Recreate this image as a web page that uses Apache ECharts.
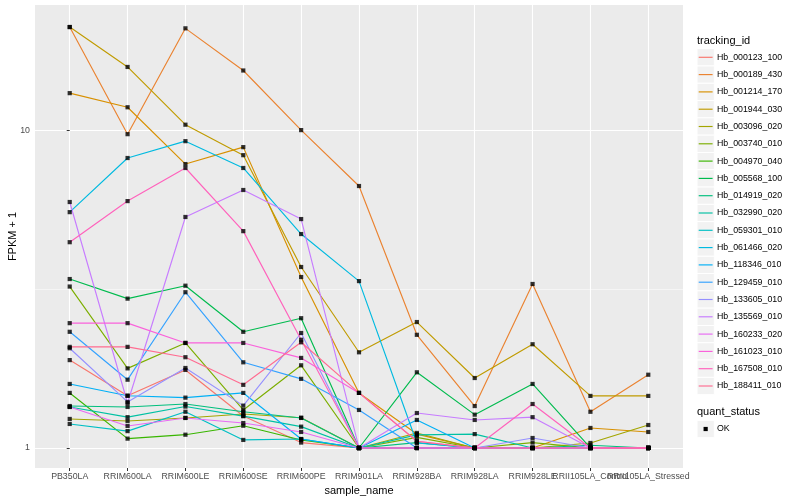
<!DOCTYPE html>
<html><head><meta charset="utf-8">
<script src="https://cdn.jsdelivr.net/npm/echarts@6/dist/echarts.min.js"></script>
<style>html,body{margin:0;padding:0;background:#fff}#c{width:800px;height:500px}</style>
</head><body><div id="c"></div>
<script>
const categories = ['PB350LA','RRIM600LA','RRIM600LE','RRIM600SE','RRIM600PE','RRIM901LA','RRIM928BA','RRIM928LA','RRIM928LE','RRII105LA_Control','RRII105LA_Stressed'];
const trackingIds = ['Hb_000123_100','Hb_000189_430','Hb_001214_170','Hb_001944_030','Hb_003096_020','Hb_003740_010','Hb_004970_040','Hb_005568_100','Hb_014919_020','Hb_032990_020','Hb_059301_010','Hb_061466_020','Hb_118346_010','Hb_129459_010','Hb_133605_010','Hb_135569_010','Hb_160233_020','Hb_161023_010','Hb_167508_010','Hb_188411_010'];
const colors = ['#F8766D','#EA8331','#D89000','#C09B00','#A3A500','#7CAE00','#39B600','#00BB4E','#00BF7D','#00C1A3','#00BFC4','#00BAE0','#00B0F6','#35A2FF','#9590FF','#C77CFF','#E76BF3','#FA62DB','#FF62BC','#FF6C91'];
const yTickValues = [1, 10];
const yMinorValues = [3.1623];

const Hb_000123_100 = [1.89, 1.46, 1.76, 1.26, 1.04, 1, 1, 1, 1, 1, 1];
const Hb_000189_430 = [21.1, 9.71, 20.9, 15.4, 10.0, 6.67, 2.27, 1.355, 3.28, 1.30, 1.70];
const Hb_001214_170 = [13.07, 11.8, 7.82, 8.84, 3.45, 1.49, 1.106, 1, 1, 1.156, 1.123];
const Hb_001944_030 = [21.1, 15.8, 10.4, 8.34, 3.71, 2.00, 2.49, 1.66, 2.12, 1.458, 1.458];
const Hb_003096_020 = [1.234, 1.216, 1.243, 1.279, 1.245, 1, 1.115, 1, 1, 1.037, 1.181];
const Hb_003740_010 = [3.22, 1.78, 2.14, 1.317, 1.82, 1, 1.08, 1, 1.04, 1, 1];
const Hb_004970_040 = [1.49, 1.07, 1.101, 1.175, 1.06, 1, 1, 1, 1, 1, 1];
const Hb_005568_100 = [3.40, 2.95, 3.24, 2.32, 2.56, 1, 1.73, 1.273, 1.59, 1, 1];
const Hb_014919_020 = [1.355, 1.346, 1.375, 1.30, 1.243, 1, 1.04, 1, 1, 1.02, 1];
const Hb_032990_020 = [1.346, 1.25, 1.35, 1.26, 1.167, 1, 1.10, 1.106, 1, 1, 1];
const Hb_059301_010 = [1.19, 1.13, 1.30, 1.06, 1.067, 1, 1, 1, 1, 1, 1];
const Hb_061466_020 = [5.52, 8.17, 9.23, 7.60, 4.71, 3.35, 1.037, 1, 1, 1, 1];
const Hb_118346_010 = [1.59, 1.46, 1.44, 1.49, 1.067, 1, 1.225, 1, 1, 1, 1];
const Hb_129459_010 = [2.32, 1.64, 3.09, 1.86, 1.65, 1.317, 1, 1, 1, 1, 1];
const Hb_133605_010 = [2.06, 1.396, 1.785, 1.359, 2.30, 1, 1, 1, 1.075, 1, 1];
const Hb_135569_010 = [5.94, 1.385, 5.33, 6.48, 5.25, 1, 1.288, 1.225, 1.25, 1, 1];
const Hb_160233_020 = [1.346, 1.173, 1.243, 1.198, 1.123, 1, 1, 1, 1, 1, 1];
const Hb_161023_010 = [2.47, 2.47, 2.14, 2.14, 1.92, 1.49, 1.05, 1, 1, 1, 1];
const Hb_167508_010 = [4.44, 5.98, 7.60, 4.81, 2.19, 1, 1, 1, 1.375, 1, 1];
const Hb_188411_010 = [2.08, 2.08, 1.93, 1.58, 2.15, 1.49, 1.05, 1, 1, 1, 1];

const valueSets = [Hb_000123_100,Hb_000189_430,Hb_001214_170,Hb_001944_030,Hb_003096_020,Hb_003740_010,Hb_004970_040,Hb_005568_100,Hb_014919_020,Hb_032990_020,Hb_059301_010,Hb_061466_020,Hb_118346_010,Hb_129459_010,Hb_133605_010,Hb_135569_010,Hb_160233_020,Hb_161023_010,Hb_167508_010,Hb_188411_010];

const FONT = '"Liberation Sans", Arial, Helvetica, sans-serif';
const idx = categories.map((c, i) => i);
const evenIdx = idx.filter(i => i % 2 === 0);
const oddIdx = idx.filter(i => i % 2 === 1);
const Y_MIN = 0.865, Y_MAX = 24.75;

const series = valueSets.map((vals, k) => ({
  name: trackingIds[k], type: 'line', yAxisIndex: 0, xAxisIndex: 0,
  data: vals.map((v, i) => [i, v]),
  symbol: 'none', z: 2,
  lineStyle: { color: colors[k], width: 1.15 },
  itemStyle: { color: colors[k] },
  emphasis: { disabled: true }, silent: true
}));
const pts = [];
valueSets.forEach(vals => vals.forEach((v, i) => pts.push([i, v])));
series.push({
  name: 'OK', type: 'scatter', data: pts, symbol: 'rect', symbolSize: 4.2,
  itemStyle: { color: '#000' }, z: 5, silent: true
});

const graphic = [];
const lx = 697, keyW = 17.3, y0 = 57.3, dy = 17.3;
graphic.push({ type: 'text', x: lx, y: 40.5, style: { text: 'tracking_id', font: '11px ' + FONT, fill: '#000', verticalAlign: 'middle' } });
trackingIds.forEach((id, i) => {
  const cy = y0 + i * dy;
  graphic.push({ type: 'rect', shape: { x: lx, y: cy - keyW / 2, width: keyW, height: keyW }, style: { fill: '#F2F2F2', stroke: '#fff', lineWidth: 1 } });
  graphic.push({ type: 'line', shape: { x1: lx + 1.7, y1: cy, x2: lx + keyW - 1.7, y2: cy }, style: { stroke: colors[i], lineWidth: 1.15 } });
  graphic.push({ type: 'text', x: lx + 20, y: cy, style: { text: id, font: '8.8px ' + FONT, fill: '#000', verticalAlign: 'middle' } });
});
graphic.push({ type: 'text', x: lx, y: 412.3, style: { text: 'quant_status', font: '11px ' + FONT, fill: '#000', verticalAlign: 'middle' } });
graphic.push({ type: 'rect', shape: { x: lx, y: 429 - keyW / 2, width: keyW, height: keyW }, style: { fill: '#F2F2F2', stroke: '#fff', lineWidth: 1 } });
graphic.push({ type: 'rect', shape: { x: lx + keyW / 2 - 2.1, y: 429 - 2.1, width: 4.2, height: 4.2 }, style: { fill: '#000' } });
graphic.push({ type: 'text', x: lx + 20, y: 429, style: { text: 'OK', font: '8.8px ' + FONT, fill: '#000', verticalAlign: 'middle' } });

const labelBase = { formatter: v => categories[Math.round(v)], color: '#4D4D4D', fontSize: 8.8, fontFamily: FONT, margin: 4, hideOverlap: false, showMinLabel: true, showMaxLabel: true };

const chart = echarts.init(document.getElementById('c'), null, { renderer: 'canvas' });
chart.setOption({
  animation: false,
  backgroundColor: '#fff',
  textStyle: { fontFamily: FONT },
  grid: { left: 35, right: 117, top: 5, bottom: 32, show: true, backgroundColor: '#EBEBEB', borderWidth: 0, containLabel: false, outerBoundsMode: 'none' },
  xAxis: [{
    type: 'value', min: -0.6, max: 10.6, position: 'bottom',
    axisLine: { show: false },
    axisTick: { show: true, customValues: idx, length: 3, lineStyle: { color: '#333', width: 1 } },
    axisLabel: Object.assign({ customValues: evenIdx }, labelBase),
    splitLine: { show: true, lineStyle: { color: '#fff', width: 1.1 } },
    name: 'sample_name', nameLocation: 'middle', nameGap: 17, nameMoveOverlap: false,
    nameTextStyle: { fontSize: 11, color: '#000', fontFamily: FONT }
  }, {
    type: 'value', min: -0.6, max: 10.6, position: 'bottom', offset: 0,
    axisLine: { show: false },
    axisTick: { show: false, customValues: oddIdx },
    axisLabel: Object.assign({ customValues: oddIdx }, labelBase),
    splitLine: { show: false }
  }],
  yAxis: [{
    type: 'log', logBase: 10, min: Y_MIN, max: Y_MAX,
    axisLine: { show: false },
    axisTick: { show: true, customValues: yTickValues, length: 3, lineStyle: { color: '#333', width: 1 } },
    axisLabel: { customValues: yTickValues, color: '#4D4D4D', fontSize: 8.8, fontFamily: FONT, margin: 5, showMinLabel: true, showMaxLabel: true },
    splitLine: { show: true, lineStyle: { color: '#fff', width: 1.1 } },
    name: 'FPKM + 1', nameLocation: 'middle', nameGap: 17, nameRotate: 90, nameMoveOverlap: false,
    nameTextStyle: { fontSize: 11, color: '#000', fontFamily: FONT }
  }, {
    type: 'log', logBase: 10, min: Y_MIN, max: Y_MAX, position: 'left',
    axisLine: { show: false },
    axisTick: { show: false, customValues: yMinorValues },
    axisLabel: { show: false, customValues: yMinorValues },
    splitLine: { show: true, lineStyle: { color: '#fff', width: 0.5 } }
  }],
  graphic: graphic,
  series: series
});
</script></body></html>
